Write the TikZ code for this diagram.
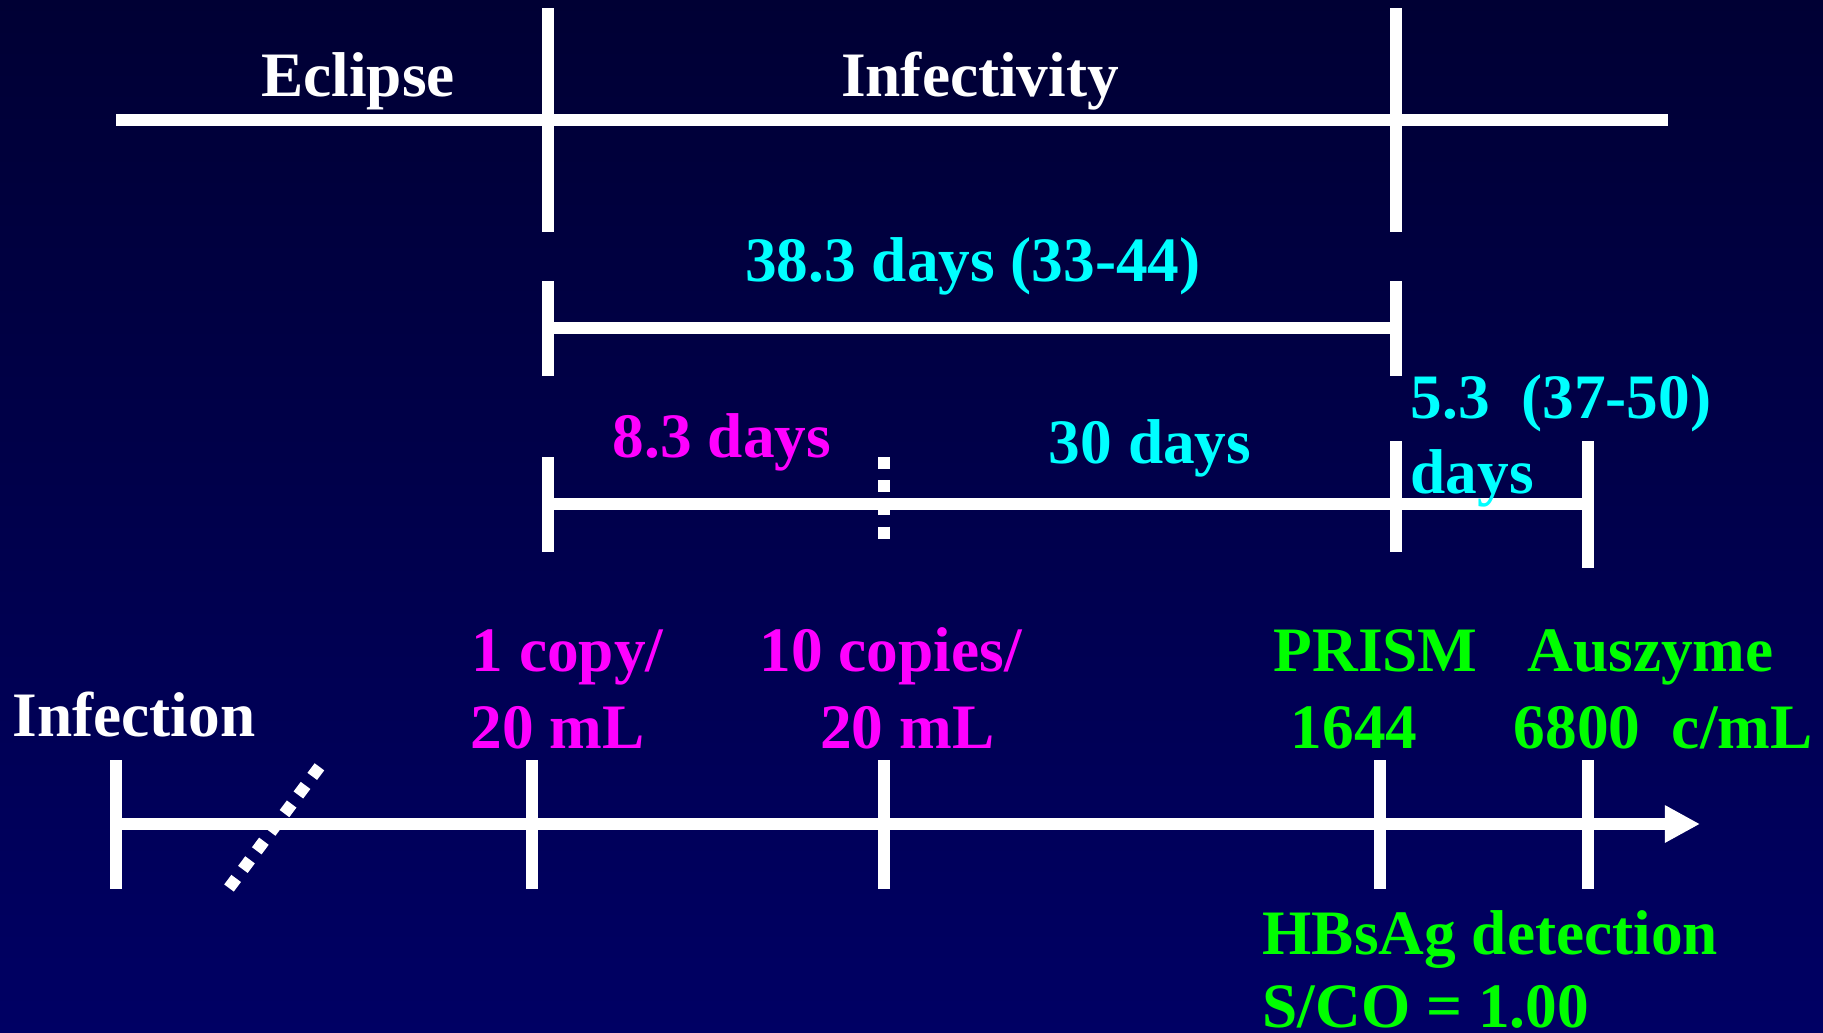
\documentclass[tikz,border=0pt]{standalone}
\usepackage{fontspec}
\setmainfont{Liberation Serif}
\usetikzlibrary{arrows.meta}

\definecolor{bgtop}{RGB}{0,0,52}
\definecolor{bgbot}{RGB}{0,0,100}
\definecolor{daycyan}{RGB}{0,255,255}
\definecolor{copymag}{RGB}{255,0,255}
\definecolor{assaygreen}{RGB}{0,255,0}

\begin{document}
\begin{tikzpicture}[
    x=0.01cm, y=-0.01cm,
    bar/.style={white, line width=3.4pt},
    dotbar/.style={white, line width=3.4pt, dash pattern=on 3.4pt off 3.2pt},
    lbl/.style={inner sep=0pt, font=\fontsize{18}{21}\selectfont\bfseries}
]
    \useasboundingbox (0,0) rectangle (1823,1033);
    \shade[top color=bgtop, bottom color=bgbot] (0,0) rectangle (1823,1033);

    % Eclipse / infectivity scale (top)
    \draw[bar] (116,120) -- (1668,120);
    \draw[bar] (548,8) -- (548,232);
    \draw[bar] (1396,8) -- (1396,232);
    \node[lbl, white, anchor=base] (eclipse) at (358,96) {Eclipse};
    \node[lbl, white, anchor=base] (infect) at (980,96) {Infectivity};

    % Infectivity window
    \draw[bar] (548,328) -- (1396,328);
    \draw[bar] (548,281) -- (548,376);
    \draw[bar] (1396,281) -- (1396,376);
    \node[lbl, daycyan, anchor=base] (window) at (973,281) {38.3 days (33-44)};

    % Split of the window
    \draw[bar] (548,504) -- (1588,504);
    \draw[bar] (548,457) -- (548,552);
    \draw[bar] (1396,441) -- (1396,552);
    \draw[bar] (1588,441) -- (1588,568);
    \draw[dotbar] (884,457) -- (884,540);
    \node[lbl, copymag, anchor=base] (first) at (722,457) {8.3 days};
    \node[lbl, daycyan, anchor=base] (second) at (1150,463) {30 days};
    \node[lbl, daycyan, anchor=base west] (third) at (1410,418) {5.3\ \ (37-50)};
    \node[lbl, daycyan, anchor=base west] (thirdunit) at (1410,493) {days};

    % Time axis (bottom)
    \draw[bar, -{Triangle[length=10pt, width=10pt]}] (116,824) -- (1700,824);
    \foreach \tx in {116,532,884,1380,1588}
        \draw[bar] (\tx,760) -- (\tx,889);
    \draw[dotbar] (229,888) -- (326,758);

    \node[lbl, white, anchor=base west] (infection) at (12,736) {Infection};
    \node[lbl, copymag, anchor=base west] (onecopy) at (471,671) {1 copy/};
    \node[lbl, copymag, anchor=base west] (onevol) at (470,748) {20 mL};
    \node[lbl, copymag, anchor=base west] (tencopy) at (759,671) {10 copies/};
    \node[lbl, copymag, anchor=base east] (tenvol) at (995,748) {20 mL};
    \node[lbl, assaygreen, anchor=base west] (prism) at (1273,671) {PRISM};
    \node[lbl, assaygreen, anchor=base west] (prismval) at (1290,748) {1644};
    \node[lbl, assaygreen, anchor=base west] (auszyme) at (1527,671) {Auszyme};
    \node[lbl, assaygreen, anchor=base west] (auszval) at (1513,748) {6800\ \ c/mL};
    \node[lbl, assaygreen, anchor=base west] (hbsag) at (1262,954) {HBsAg detection};
    \node[lbl, assaygreen, anchor=base west] (cutoff) at (1262,1027) {S/CO = 1.00};
\end{tikzpicture}
\end{document}
